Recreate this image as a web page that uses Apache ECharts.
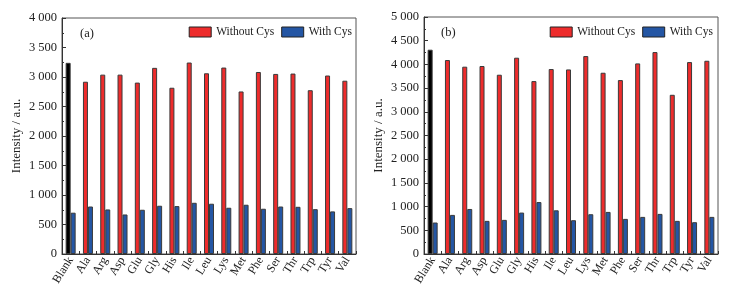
<!DOCTYPE html>
<html>
<head>
<meta charset="utf-8">
<script src="https://cdn.jsdelivr.net/npm/echarts@6/dist/echarts.min.js"></script>
<style>
  html, body { margin: 0; padding: 0; background: #fff; }
  #chart { width: 734px; height: 291px; }
</style>
</head>
<body>
<div id="chart"></div>
<script>
// categories (shared by both panels)
var acids = ['Blank', 'Ala', 'Arg', 'Asp', 'Glu', 'Gly', 'His', 'Ile', 'Leu',
             'Lys', 'Met', 'Phe', 'Ser', 'Thr', 'Trp', 'Tyr', 'Val'];

// panel (a)
var aWithout = [3240, 2920, 3040, 3040, 2905, 3155, 2818, 3245, 3063,
                3160, 2755, 3085, 3052, 3058, 2776, 3025, 2937];
var aWith    = [700, 805, 755, 670, 750, 818, 812, 868, 852,
                784, 835, 767, 805, 800, 760, 722, 778];

// panel (b)
var bWithout = [4310, 4092, 3952, 3966, 3782, 4141, 3648, 3902, 3894,
                4176, 3824, 3669, 4021, 4260, 3359, 4049, 4077];
var bWith    = [664, 825, 950, 699, 720, 874, 1096, 922, 713,
                839, 888, 741, 783, 846, 699, 671, 783];

var FONT = '"Liberation Serif", "DejaVu Serif", serif';
var RED = '#ee2c2c';
var BLUE = '#2456a4';
var EDGE = '#3a3a3a';

var myChart = echarts.init(document.getElementById('chart'));

// first bar of "without" series is the blank sample, drawn black
function blankFirst(arr) {
    return arr.map(function (v, i) {
        if (i === 0) return { value: v, itemStyle: { color: '#000' } };
        return v;
    });
}

function spaceThousands(v) {
    var s = String(v);
    if (s.length > 3) s = s.slice(0, s.length - 3) + ' ' + s.slice(s.length - 3);
    return s;
}

function xAxisFor(idx) {
    return {
        type: 'category',
        gridIndex: idx,
        data: acids,
        axisLine: { lineStyle: { color: '#333', width: 1 } },
        axisTick: { show: true, inside: true, length: 3, lineStyle: { color: '#333' } },
        axisLabel: { rotate: 58, color: '#222', fontFamily: FONT, fontSize: 12, margin: 4, interval: 0 }
    };
}

function yAxisFor(idx, max) {
    return {
        type: 'value',
        gridIndex: idx,
        min: 0,
        max: max,
        interval: 500,
        name: 'Intensity / a.u.',
        nameLocation: 'middle',
        nameGap: 39,
        nameTextStyle: { color: '#222', fontFamily: FONT, fontSize: 13 },
        axisLine: { show: true, lineStyle: { color: '#333', width: 1 } },
        axisTick: { show: true, inside: true, length: 4, lineStyle: { color: '#333' } },
        minorTick: { show: true, splitNumber: 2, length: 2, lineStyle: { color: '#333' } },
        splitLine: { show: false },
        axisLabel: {
            color: '#222', fontFamily: FONT, fontSize: 12.5, margin: 5,
            formatter: spaceThousands
        }
    };
}

function legendFor(right, top) {
    return {
        right: right,
        top: top,
        icon: 'rect',
        itemWidth: 22,
        itemHeight: 10,
        itemGap: 7,
        textStyle: { color: '#222', fontFamily: FONT, fontSize: 11.5 },
        data: [
            { name: 'Without Cys', itemStyle: { color: RED, borderColor: '#222', borderWidth: 1 } },
            { name: 'With Cys', itemStyle: { color: BLUE, borderColor: '#222', borderWidth: 1 } }
        ]
    };
}

function barSeries(name, color, data, idx) {
    return {
        name: name,
        type: 'bar',
        xAxisIndex: idx,
        yAxisIndex: idx,
        data: data,
        barWidth: 5,
        barGap: '0%',
        itemStyle: { color: color, borderColor: EDGE, borderWidth: 1 }
    };
}

var option = {
    backgroundColor: '#fff',
    animation: false,
    grid: [
        { left: 62, right: 378, top: 18, bottom: 37, show: true, borderColor: '#555', borderWidth: 1 },
        { left: 424, right: 16, top: 17, bottom: 37, show: true, borderColor: '#555', borderWidth: 1 }
    ],
    legend: [legendFor(377, 21), legendFor(16, 21)],
    xAxis: [xAxisFor(0), xAxisFor(1)],
    yAxis: [yAxisFor(0, 4000), yAxisFor(1, 5000)],
    graphic: [
        { type: 'text', left: 80, top: 27, style: { text: '(a)', fill: '#222', font: '12.5px ' + FONT } },
        { type: 'text', left: 441, top: 26, style: { text: '(b)', fill: '#222', font: '12.5px ' + FONT } }
    ],
    series: [
        barSeries('Without Cys', RED, blankFirst(aWithout), 0),
        barSeries('With Cys', BLUE, aWith, 0),
        barSeries('Without Cys', RED, blankFirst(bWithout), 1),
        barSeries('With Cys', BLUE, bWith, 1)
    ]
};
myChart.setOption(option);
</script>
</body>
</html>
